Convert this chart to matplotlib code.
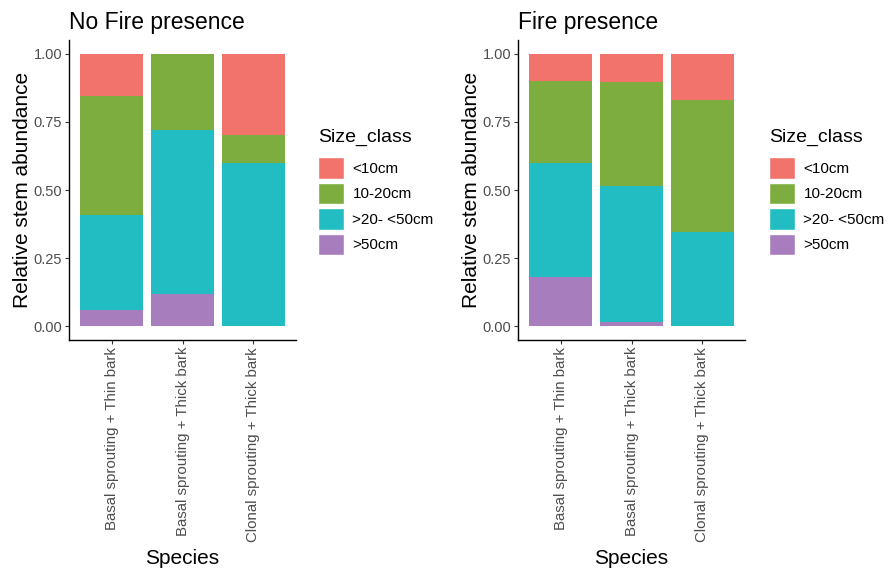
import matplotlib
matplotlib.use("Agg")
import matplotlib.pyplot as plt
from matplotlib.patches import Patch
import numpy as np

plt.rcParams['font.family'] = ['Liberation Sans', 'DejaVu Sans']

# Data: relative stem abundance per size class (segment heights)
species = ["Basal sprouting + Thin bark",
           "Basal sprouting + Thick bark",
           "Clonal sprouting + Thick bark"]
size_classes = ["<10cm", "10-20cm", ">20- <50cm", ">50cm"]
colors = ["#F1736C", "#7DAD3F", "#22BCC3", "#A77DBD"]

no_fire = {
    ">50cm":      [0.06, 0.12, 0.00],
    ">20- <50cm": [0.35, 0.60, 0.60],
    "10-20cm":    [0.435, 0.28, 0.10],
    "<10cm":      [0.155, 0.00, 0.30],
}
fire = {
    ">50cm":      [0.18, 0.015, 0.00],
    ">20- <50cm": [0.42, 0.50, 0.345],
    "10-20cm":    [0.30, 0.38, 0.485],
    "<10cm":      [0.10, 0.105, 0.17],
}
titles = ["No Fire presence", "Fire presence"]

W, H = 888, 570
fig = plt.figure(figsize=(W / 100, H / 100), dpi=100)

axes_px = [(69, 40, 227, 300), (518, 40, 227, 300)]
legend_px = [(318, 129), (769, 129)]
grey = "#4D4D4D"

for data, title, (l, t, w, h), (lx, ly) in zip([no_fire, fire], titles, axes_px, legend_px):
    ax = fig.add_axes([l / W, 1 - (t + h) / H, w / W, h / H])
    x = np.arange(1, len(species) + 1)
    bottom = np.zeros(len(species))
    # stack from the bottom: >50cm first
    for cls in reversed(size_classes):
        vals = np.array(data[cls])
        ax.bar(x, vals, width=0.9, bottom=bottom,
               color=colors[size_classes.index(cls)], linewidth=0)
        bottom += vals
    ax.set_xlim(0.4, 3.6)
    ax.set_ylim(-0.05, 1.05)
    ax.set_yticks([0, 0.25, 0.5, 0.75, 1.0])
    ax.set_yticklabels(["0.00", "0.25", "0.50", "0.75", "1.00"])
    ax.set_xticks(x)
    ax.set_xticklabels(species, rotation=90, fontsize=10.8)
    for s in ["top", "right"]:
        ax.spines[s].set_visible(False)
    for s in ["left", "bottom"]:
        ax.spines[s].set_linewidth(1.0)
        ax.spines[s].set_color("black")
    ax.tick_params(axis="both", length=3, width=0.8, color="#333333",
                   labelcolor=grey, pad=2)
    ax.tick_params(axis="y", labelsize=10.5)
    ax.set_ylabel("Relative stem abundance", fontsize=15, labelpad=1)
    ax.set_xlabel("Species", fontsize=15, labelpad=5)
    ax.set_title(title, fontsize=16.5, loc="left", pad=8)

    handles = [Patch(facecolor=c, edgecolor="white", linewidth=1) for c in colors]
    leg = fig.legend(handles, size_classes, title="Size_class",
                     loc="upper left", bbox_to_anchor=(lx / W, 1 - ly / H),
                     frameon=False, fontsize=11, title_fontsize=14,
                     handlelength=1.7, handleheight=1.8, labelspacing=0.25,
                     handletextpad=0.55, borderpad=0, borderaxespad=0)
    leg._legend_box.align = "left"
    leg._legend_box.sep = 8

fig.savefig("out.png", dpi=100)
